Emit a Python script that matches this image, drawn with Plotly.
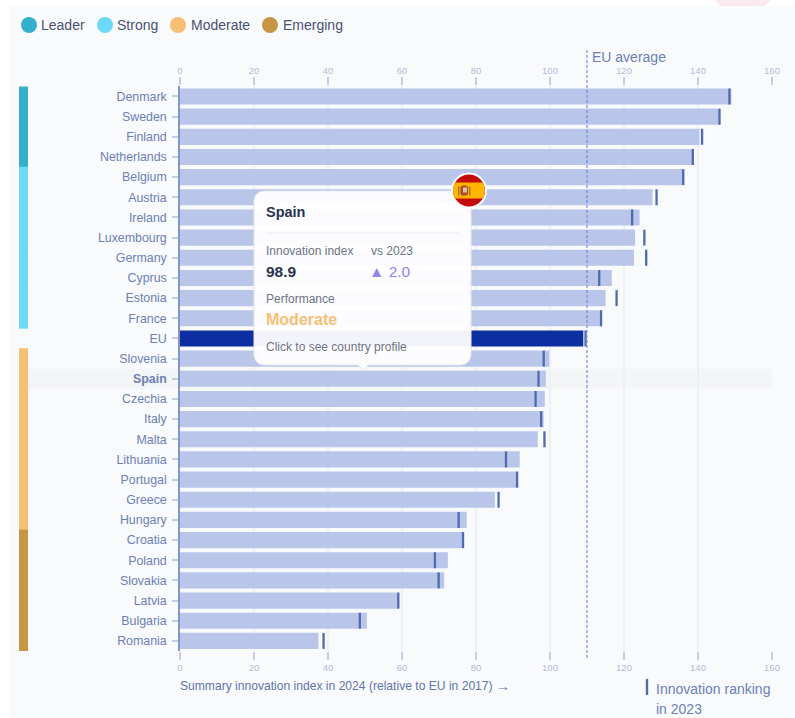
import base64
import plotly.graph_objects as go

W, H = 795, 718
countries = ["Denmark","Sweden","Finland","Netherlands","Belgium","Austria","Ireland","Luxembourg","Germany","Cyprus","Estonia","France","EU","Slovenia","Spain","Czechia","Italy","Malta","Lithuania","Portugal","Greece","Hungary","Croatia","Poland","Slovakia","Latvia","Bulgaria","Romania"]
index_2024 = [149.0,146.0,140.4,138.7,136.3,127.7,124.2,123.0,122.7,116.7,115.0,114.0,109.0,99.8,98.9,98.6,98.3,96.7,91.8,91.4,85.1,77.5,76.7,72.4,71.4,59.2,50.5,37.4]
index_2023 = [148.5,145.8,141.1,138.6,136.0,128.8,122.2,125.5,126.0,113.3,118.0,113.8,109.6,98.3,96.9,96.1,97.6,98.5,88.1,91.1,86.1,75.3,76.5,68.9,69.9,59.0,48.6,38.8]
performance = ["Leader"]*4 + ["Strong"]*8 + [None] + ["Moderate"]*9 + ["Emerging"]*6
perf_names = ["Leader","Strong","Moderate","Emerging"]
perf_colors = {"Leader":"#35b0cc","Strong":"#6cdaf6","Moderate":"#f5c073","Emerging":"#c49646"}
x_ticks = [0,20,40,60,80,100,120,140,160]
eu_average = 110

FONT = "Liberation Sans, Arial, sans-serif"
BAR = "#b9c6e9"; EU_BAR = "#0d2ea0"; MARK = "#4f6bab"
LABEL = "#6c80b6"; TICKTXT = "#b2bbd9"; TICK = "#c5cee6"; GRID = "#eef0f7"

def px(x): return x/W
def py(y): return 1-y/H
def uri(svg): return "data:image/svg+xml;base64," + base64.b64encode(svg.encode()).decode()

fig = go.Figure()
strip_colors = [perf_colors.get(p, "rgba(0,0,0,0)") for p in performance]
fig.add_bar(y=countries, x=[1 if p else None for p in performance], orientation="h", width=1,
            marker=dict(color=strip_colors, line=dict(color=strip_colors, width=0.6)),
            xaxis="x2", yaxis="y", hoverinfo="skip", showlegend=False)
fig.add_bar(y=countries, x=index_2024, orientation="h",
            marker=dict(color=[EU_BAR if c=="EU" else BAR for c in countries], line_width=0),
            xaxis="x", yaxis="y", hoverinfo="skip", showlegend=False)
fig.add_scatter(y=countries, x=index_2023, mode="markers", xaxis="x3", yaxis="y",
                marker=dict(symbol="line-ns", size=11.4, line=dict(color=MARK, width=2.3)),
                hoverinfo="skip", showlegend=False)

shapes = [
    dict(type="circle", xref="paper", yref="paper", x0=px(709), x1=px(777), y0=py(14), y1=py(-54),
         fillcolor="#fbe9f0", line_width=0, layer="below"),
    dict(type="rect", xref="paper", yref="paper", x0=px(9), x1=1, y0=py(6), y1=0,
         fillcolor="#f9fafc", line_width=0, layer="below"),
    dict(type="rect", xref="paper", yref="y", x0=px(28), x1=px(772),
         y0=countries.index("Spain")-0.5, y1=countries.index("Spain")+0.5,
         fillcolor="#f4f5f7", line_width=0, layer="below"),
    dict(type="line", xref="x", yref="paper", x0=eu_average, x1=eu_average, y0=py(50), y1=py(658),
         line=dict(color="#5f7cdc", width=1, dash="3px,2px"), layer="above"),
    dict(type="line", xref="paper", yref="paper", x0=px(647), x1=px(647), y0=py(679), y1=py(695),
         line=dict(color=MARK, width=2.4)),
]
anns = []
def text(x, y, s, size, color, bold=False, anchor="left"):
    anns.append(dict(xref="paper", yref="paper", x=px(x), y=py(y), text=f"<b>{s}</b>" if bold else s,
                     showarrow=False, xanchor=anchor, yanchor="middle", align="left",
                     font=dict(family=FONT, size=size, color=color), borderpad=0, borderwidth=0))

# legend
for name, cx, tx in zip(perf_names, [29,105,178,270], [41,117,191,283]):
    shapes.append(dict(type="circle", xref="paper", yref="paper", x0=px(cx-8), x1=px(cx+8),
                       y0=py(25+8), y1=py(25-8), fillcolor=perf_colors[name], line_width=0))
    text(tx, 25, name, 14, "#4a5270")

text(592, 57, "EU average", 14, LABEL)
text(180, 686, "Summary innovation index in 2024 (relative to EU in 2017)", 12.1, "#5f74ad")
text(496, 686, "→", 14, "#5f74ad")
text(656, 689, "Innovation ranking", 14, LABEL)
text(656, 709, "in 2023", 14, LABEL)

# tooltip
text(266, 212, "Spain", 14.5, "#2a3350", True)
text(266, 251, "Innovation index", 12, "#6e7385")
text(371, 251, "vs 2023", 12, "#6e7385")
text(266, 271, "98.9", 15.5, "#2a3350", True)
text(369, 271, "▲ 2.0", 15.5, "#8f85ea")
text(266, 299, "Performance", 12, "#6e7385")
text(266, 320, "Moderate", 16, "#f5c073", True)
text(266, 347, "Click to see country profile", 12, "#6e7385")

tooltip_svg = ('<svg xmlns="http://www.w3.org/2000/svg" width="225" height="190" viewBox="250 187 225 190">'
    '<path d="M264 191H461a10 10 0 0 1 10 10V355a10 10 0 0 1-10 10H368L363 370L358 365H264a10 10 0 0 1-10-10V201a10 10 0 0 1 10-10Z" '
    'fill="#ffffff" fill-opacity="0.95" stroke="#e6e8f0" stroke-width="1"/>'
    '<line x1="266" y1="233" x2="459" y2="233" stroke="#e8eaf1" stroke-width="1"/></svg>')
flag_svg = ('<svg xmlns="http://www.w3.org/2000/svg" width="36" height="36" viewBox="0 0 36 36">'
    '<defs><clipPath id="c"><circle cx="18" cy="18" r="16"/></clipPath></defs>'
    '<circle cx="18" cy="18" r="18" fill="#ffffff"/>'
    '<g clip-path="url(#c)"><rect width="36" height="36" fill="#c40c0c"/>'
    '<rect y="10" width="36" height="16" fill="#ffb400"/>'
    '<rect x="9.5" y="13" width="7.5" height="10" rx="2.5" fill="#b5472c"/>'
    '<rect x="12" y="15" width="4" height="5" fill="#d9c3a0"/>'
    '<rect x="7" y="14" width="1.4" height="9" fill="#9a7b2c"/>'
    '<rect x="18" y="14" width="1.4" height="9" fill="#9a7b2c"/></g></svg>')
images = [
    dict(source=uri(tooltip_svg), xref="paper", yref="paper", x=px(250), y=py(187), sizex=225/W, sizey=190/H,
         xanchor="left", yanchor="top", sizing="stretch", layer="above"),
    dict(source=uri(flag_svg), xref="paper", yref="paper", x=px(451), y=py(172.5), sizex=36/W, sizey=36/H,
         xanchor="left", yanchor="top", sizing="stretch", layer="above"),
]

axis_common = dict(range=[0,160], tickvals=x_ticks, ticks="outside", ticklen=8, tickwidth=1.5, tickcolor=TICK,
                   tickfont=dict(family=FONT, size=9.5, color=TICKTXT), zeroline=False, showline=False,
                   fixedrange=True, automargin=False)
fig.update_layout(
    width=W, height=H, margin=dict(l=0,r=0,t=0,b=0), autosize=False,
    paper_bgcolor="#ffffff", plot_bgcolor="rgba(0,0,0,0)", bargap=0.2, showlegend=False,
    shapes=shapes, annotations=anns, images=images,
    xaxis=dict(domain=[px(180), px(772)], anchor="y", side="bottom", showgrid=True, gridcolor=GRID, gridwidth=1.5, **axis_common),
    xaxis3=dict(overlaying="x", anchor="y", side="top", showgrid=False, **axis_common),
    xaxis2=dict(domain=[px(19), px(28)], range=[0,1], visible=False, anchor="y", fixedrange=True, automargin=False),
    yaxis=dict(domain=[py(651), py(86.4)], range=[27.5,-0.5], type="category", categoryorder="array", categoryarray=countries,
               tickvals=countries, ticktext=[f"<b>{c}</b>" if c=="Spain" else c for c in countries],
               ticks="outside", ticklen=6, tickwidth=1.5, tickcolor=TICK, ticklabelstandoff=3,
               tickfont=dict(family=FONT, size=12.4, color=LABEL), showline=True, linecolor="#8296cc", linewidth=1.5,
               showgrid=False, zeroline=False, fixedrange=True, anchor="x", automargin=False),
)
fig.write_html("out.html", config=dict(displayModeBar=False),
               post_script="document.body.style.margin='0';document.body.style.overflow='hidden';")
